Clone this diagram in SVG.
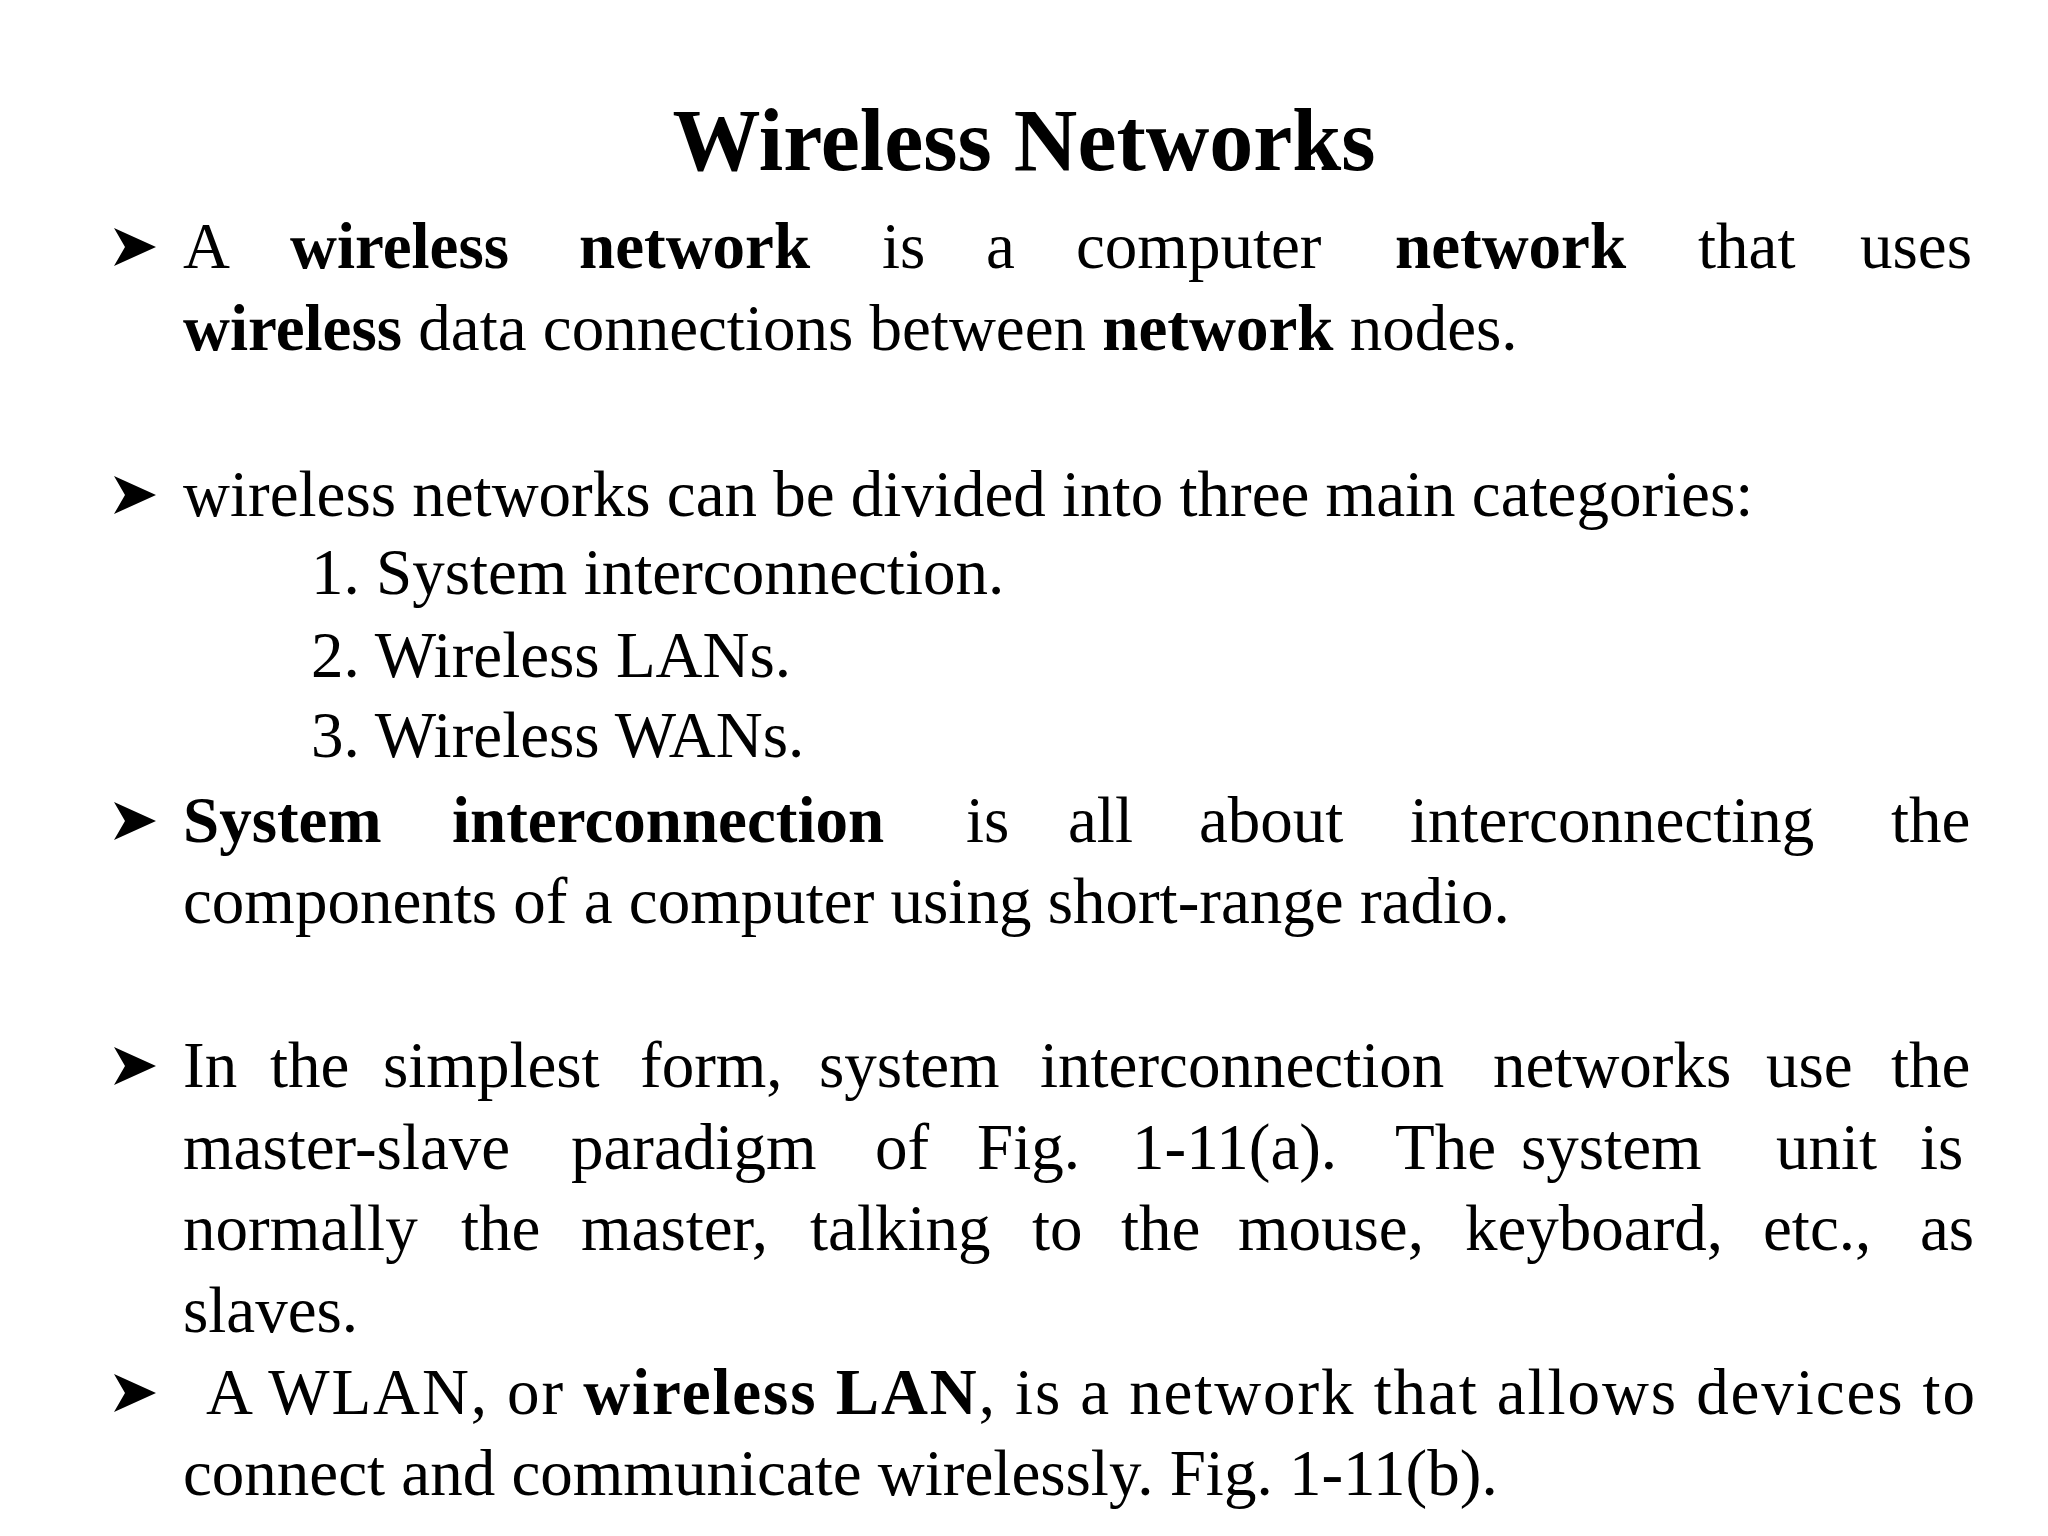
<svg xmlns="http://www.w3.org/2000/svg" width="2048" height="1536" viewBox="0 0 2048 1536">
<style>
text{font-family:"Liberation Serif","Times New Roman",serif;font-size:65px;fill:#000}
.b{font-weight:bold}
.t{font-size:88px;font-weight:bold}
</style>
<defs>
<g id="arr"><polygon points="0,-19 42,0 0,19 11,0" fill="#000"/></g>
</defs>
<rect width="2048" height="1536" fill="#fff"/>
<text class="t" x="1024" y="170" text-anchor="middle">Wireless Networks</text>
<g id="bullets">
<use href="#arr" x="114" y="247"/>
<use href="#arr" x="114" y="495"/>
<use href="#arr" x="114" y="821"/>
<use href="#arr" x="114" y="1066"/>
<use href="#arr" x="114" y="1393"/>
</g>
<g id="p1">
<text y="268"><tspan x="183">A</tspan><tspan x="290" class="b">wireless</tspan><tspan x="579" class="b">network</tspan><tspan x="882">is</tspan><tspan x="986">a</tspan><tspan x="1076">computer</tspan><tspan x="1395" class="b">network</tspan><tspan x="1698">that</tspan><tspan x="1860">uses</tspan></text>
<text x="183" y="350"><tspan class="b">wireless</tspan> data connections between <tspan class="b">network</tspan> nodes.</text>
</g>
<g id="p2">
<text x="183" y="516">wireless networks can be divided into three main categories:</text>
<text x="311" y="594">1. System interconnection.</text>
<text x="311" y="677">2. Wireless LANs.</text>
<text x="311" y="757">3. Wireless WANs.</text>
</g>
<g id="p3">
<text y="842"><tspan x="183" class="b">System</tspan><tspan x="452" class="b">interconnection</tspan><tspan x="966">is</tspan><tspan x="1068">all</tspan><tspan x="1199">about</tspan><tspan x="1410">interconnecting</tspan><tspan x="1891">the</tspan></text>
<text x="183" y="923">components of a computer using short-range radio.</text>
</g>
<g id="p4">
<text y="1087"><tspan x="183">In</tspan><tspan x="270">the</tspan><tspan x="383">simplest</tspan><tspan x="640">form,</tspan><tspan x="819">system</tspan><tspan x="1040">interconnection</tspan><tspan x="1493">networks</tspan><tspan x="1766">use</tspan><tspan x="1891">the</tspan></text>
<text y="1169"><tspan x="183">master-slave</tspan><tspan x="571">paradigm</tspan><tspan x="875">of</tspan><tspan x="977">Fig.</tspan><tspan x="1132">1-11(a).</tspan><tspan x="1395">The</tspan><tspan x="1521">system</tspan><tspan x="1776">unit</tspan><tspan x="1920">is</tspan></text>
<text y="1250"><tspan x="183">normally</tspan><tspan x="461">the</tspan><tspan x="581">master,</tspan><tspan x="810">talking</tspan><tspan x="1032">to</tspan><tspan x="1121">the</tspan><tspan x="1238">mouse,</tspan><tspan x="1465">keyboard,</tspan><tspan x="1763">etc.,</tspan><tspan x="1920">as</tspan></text>
<text x="183" y="1332">slaves.</text>
</g>
<g id="p5">
<text x="206" y="1414" textLength="1769" lengthAdjust="spacing">A WLAN, or <tspan class="b">wireless LAN</tspan>, is a network that allows devices to</text>
<text x="183" y="1495">connect and communicate wirelessly. Fig. 1-11(b).</text>
</g>
</svg>
